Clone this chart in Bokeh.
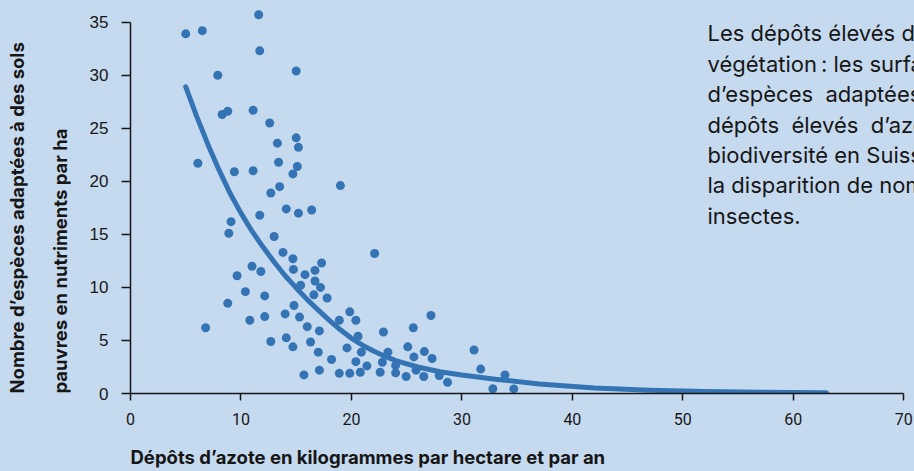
from bokeh.plotting import figure
from bokeh.models import Range1d, Label, FixedTicker, Title
from bokeh.embed import file_html
from bokeh.resources import INLINE

# ---- data ----
deposit_x = [5.0, 6.5, 11.6, 11.7, 7.9, 15.0, 8.3, 8.8, 11.1, 12.6, 13.3, 15.0, 15.2,
             6.1, 9.4, 11.1, 13.4, 15.1, 14.7, 13.5, 12.7, 19.0, 14.1, 15.2, 16.4,
             9.1, 11.7, 8.9, 13.0, 13.8, 14.7, 17.3, 11.0, 11.8, 14.75, 16.7, 9.65,
             15.8, 16.7, 17.2, 15.4, 10.4, 12.15, 16.6, 17.8, 8.8, 14.8, 14.0, 15.3,
             10.8, 12.15, 16.0, 17.1, 6.8, 12.7, 14.1, 14.7, 16.3, 17.0, 18.2, 15.7,
             17.1, 18.9, 18.9, 22.1, 19.85, 20.4, 20.6, 19.6, 20.9, 20.4, 21.4, 19.85,
             20.8, 22.9, 25.6, 27.2, 23.3, 22.8, 22.6, 24.0, 24.0, 24.95, 25.1, 25.65,
             25.85, 26.6, 27.3, 26.55, 27.95, 28.7, 31.1, 31.7, 32.8, 33.9, 34.7]
species_y = [33.9, 34.2, 35.7, 32.3, 30.0, 30.4, 26.3, 26.6, 26.7, 25.5, 23.6, 24.1, 23.2,
             21.7, 20.9, 21.0, 21.8, 21.4, 20.7, 19.5, 18.9, 19.6, 17.4, 17.0, 17.3,
             16.2, 16.8, 15.1, 14.8, 13.3, 12.7, 12.3, 12.0, 11.5, 11.7, 11.6, 11.1,
             11.2, 10.6, 10.0, 10.2, 9.6, 9.2, 9.3, 9.0, 8.5, 8.3, 7.5, 7.2,
             6.9, 7.25, 6.3, 5.9, 6.2, 4.9, 5.25, 4.4, 4.85, 3.9, 3.2, 1.75,
             2.2, 1.9, 6.9, 13.2, 7.7, 6.9, 5.4, 4.3, 3.9, 3.0, 2.6, 1.9,
             2.0, 5.8, 6.2, 7.35, 3.9, 2.95, 2.0, 2.65, 1.95, 1.6, 4.4, 3.45,
             2.2, 3.95, 3.3, 1.6, 1.7, 1.05, 4.1, 2.3, 0.45, 1.75, 0.43]

# fitted curve
fit_x = [5.0, 6.0, 7.0, 8.0, 9.0, 10.0, 11.0, 12.0, 13.0, 14.0, 15.0, 16.0, 17.0,
         18.0, 19.0, 20.0, 21.0, 22.0, 23.0, 24.0, 26.0, 28.0, 30.0, 33.0, 37.0,
         42.0, 47.0, 52.0, 57.0, 63.0]
fit_y = [28.9, 26.1, 23.5, 21.1, 18.9, 17.0, 15.3, 13.8, 12.4, 11.1, 9.95, 8.85, 7.85,
         6.9, 6.0, 5.2, 4.55, 4.0, 3.52, 3.1, 2.5, 2.05, 1.74, 1.35, 0.9,
         0.52, 0.3, 0.18, 0.12, 0.08]

x_ticks = [0, 10, 20, 30, 40, 50, 60, 70]
y_ticks = [0, 5, 10, 15, 20, 25, 30, 35]

x_title = "Dépôts d’azote en kilogrammes par hectare et par an"
y_title_lines = ["Nombre d’espèces adaptées à des sols",
                 "pauvres en nutriments par ha"]
NB = "\u00a0\u00a0"
note_lines = [
    "Les dépôts élevés d’azote modifient la",
    "végétation\u202f: les surfaces exposées abritent moins",
    NB.join(["d’espèces", "adaptées", "aux", "sols", "pauvres.", "Les"]),
    NB.join(["dépôts", "élevés", "d’azote", "menacent", "la"]),
    "biodiversité en Suisse et contribuent à",
    "la disparition de nombreuses plantes et",
    "insectes.",
]

BG = "#c6daef"
DOT = "#3474b4"
INK = "#161616"

PX_X = 11.047   # pixels per kg/ha
PX_Y = 10.617   # pixels per species
X0, Y0 = 130, 393.3
H = 500          # canvas taller than the window; the lower empty strip is hidden

p = figure(width=914, height=H, output_backend="svg", toolbar_location=None,
           x_range=Range1d(0, (914 - X0) / PX_X), y_range=Range1d(0, Y0 / PX_Y),
           min_border_left=X0, min_border_right=0, min_border_top=0,
           min_border_bottom=H - 393,
           background_fill_color=BG, border_fill_color=BG, outline_line_color=None)
p.grid.visible = False

for ax in (p.xaxis[0], p.yaxis[0]):
    ax.axis_line_color = INK
    ax.axis_line_width = 1.5
    ax.major_tick_line_color = INK
    ax.major_tick_line_width = 1.5
    ax.major_tick_in = 0
    ax.minor_tick_line_color = None
    ax.major_label_text_color = INK

p.xaxis.ticker = FixedTicker(ticks=x_ticks)
p.yaxis.ticker = FixedTicker(ticks=y_ticks)
p.xaxis.bounds = (0, 70)
p.yaxis.bounds = (0, 35)
p.xaxis.major_tick_out = 7
p.yaxis.major_tick_out = 9
p.xaxis.major_label_standoff = 12
p.yaxis.major_label_standoff = 13
p.xaxis.major_label_text_font = "Roboto"
p.xaxis.major_label_text_font_size = "16px"
p.yaxis.major_label_text_font = "Liberation Sans"
p.yaxis.major_label_text_font_size = "17px"

def title(text, standoff):
    return Title(text=text, align="left", text_font="Inter", text_font_style="bold",
                 text_font_size="18.5px", text_color=INK, standoff=standoff)

# axis titles (left aligned, as in the reference)
p.add_layout(title(x_title, 33), "below")
p.add_layout(title(y_title_lines[1], 32), "left")
p.add_layout(title(y_title_lines[0], 6), "left")

p.scatter(deposit_x, species_y, size=9, color=DOT, line_color=None)
p.line(fit_x, fit_y, line_width=5, color=DOT, line_cap="round", line_join="round")

# explanatory note
for i, line in enumerate(note_lines):
    yp = 33 + 30.4 * i
    p.add_layout(Label(x=(707 - X0) / PX_X, y=(Y0 - yp) / PX_Y, text=line,
                       text_font="Inter", text_font_size="22px", text_color=INK,
                       text_baseline="middle", text_align="left"))

html = file_html(p, INLINE)
html = html.replace("</head>",
                    "<style>html,body{background:%s;overflow:hidden;}</style></head>" % BG)
open("out.html", "w").write(html)
